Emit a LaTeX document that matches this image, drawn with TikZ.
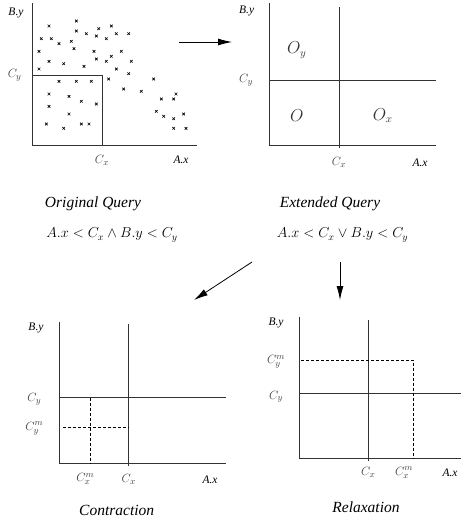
\documentclass[tikz,border=0pt]{standalone}
\usepackage{fontspec}
\setmainfont{Liberation Serif}
\usetikzlibrary{arrows.meta}
\begin{document}
\begin{tikzpicture}[x=1pt,y=-1pt,
  ax/.style={line width=0.9pt,draw=black!80},
  ln/.style={line width=0.8pt,draw=black!80},
  dl/.style={line width=0.7pt,dashed,dash pattern=on 3pt off 2pt},
  lbl/.style={font=\fontsize{11.5}{12}\selectfont\itshape,inner sep=0pt},
  mlbl/.style={font=\fontsize{12.5}{13}\selectfont,inner sep=0pt,text=black!75},
  big/.style={font=\fontsize{16}{17}\selectfont,inner sep=0pt,text=black!80},
  captxt/.style={font=\fontsize{15.5}{17}\selectfont\itshape,inner sep=0pt},
  fml/.style={font=\fontsize{14.5}{16}\selectfont,inner sep=0pt},
  arr/.style={line width=0.8pt,-{Latex[length=14pt,width=7pt]}},
  mk/.pic={\draw[line width=0.7pt] (-1.3,-1.3)--(1.3,1.3) (-1.3,1.3)--(1.3,-1.3);}]
\useasboundingbox (0,0) rectangle (461,522);
% ---------- panel 1
\coordinate (p1o) at (32.3,145);
\draw[ax] (32.3,3) -- (p1o) -- (197,145);
\draw[ax] (32.3,75) -- (102,75) -- (102,145);
\foreach \x/\y in {49/26,76.3/21,76.3/31,41.3/38.7,51.3/38.7,59/43.7,71.3/41.3,86.3/33.7,96.3/36,98.7/28.7,111.3/26,106.3/38.7,116.3/33.7,128.7/33.7,39/51.3,74/48.7,94/51.3,121.3/51.3,49/61.3,63.7/63.7,96.3/59,111.3/56.3,106.3/61.3,131.3/61.3,39/69,84/66.3,116.3/69,128.7/73.7,108.7/79,153.7/79,59/81.3,76.3/81.3,91.3/81.3,123.7/89,141.3/91.3,49/94,69/96.3,161.3/99,173.7/99,176/94,81.3/101.3,96.3/104,49/106.3,156.3/111.3,163.7/116.3,173.7/118.7,183.7/114,69/114,46.3/124,81.3/124,89/124,63.7/128.3,173.7/128.3,186/128.3}
  \pic at (\x,\y) {mk};
\node[lbl] (p1by) at (16,12.7) {B.y};
\node[mlbl] (p1cy) at (14.7,75) {$C_y$};
\node[mlbl] (p1cx) at (102,160) {$C_x$};
\node[lbl] (p1ax) at (181,160) {A.x};
% arrow 1
\coordinate (a1s) at (179,42);
\coordinate (a1e) at (232,42);
\draw[arr] (a1s) -- (a1e);
% ---------- panel 2
\draw[ax] (269.3,3) -- (269.3,145) -- (435.7,145);
\draw[ln] (339,7) -- (339,148);
\draw[ln] (269.3,80) -- (435.7,80);
\node[lbl] (p2by) at (246.7,11) {B.y};
\node[mlbl] (p2cy) at (246,80) {$C_y$};
\node[big] (oy) at (296.7,50) {$O_y$};
\node[big] (o) at (296.7,115.7) {$O$};
\node[big] (ox) at (382.7,115.7) {$O_x$};
\node[mlbl] (p2cx) at (339,162.7) {$C_x$};
\node[lbl] (p2ax) at (420,162.7) {A.x};
% captions
\node[captxt] (oq) at (93,203.3) {Original Query};
\node[fml] (f1) at (112,235) {$A.x<C_x\wedge B.y<C_y$};
\node[captxt] (eq) at (330,203.3) {Extended Query};
\node[fml] (f2) at (342.5,235) {$A.x<C_x\vee B.y<C_y$};
% arrows down
\coordinate (a2s) at (252,262);
\coordinate (a2e) at (194,300);
\draw[arr] (a2s) -- (a2e);
\coordinate (a3s) at (340,262);
\coordinate (a3e) at (340,300);
\draw[arr] (a3s) -- (a3e);
% ---------- panel 3
\draw[ax] (59.3,321.7) -- (59.3,463.3) -- (225.7,463.3);
\draw[ln] (128.7,324.3) -- (128.7,465.7);
\draw[ln] (59.3,397.7) -- (225.7,397.7);
\draw[dl] (90.7,397.7) -- (90.7,463.3);
\draw[dl] (63.3,427.7) -- (128.7,427.7);
\node[lbl] (p3by) at (36,327.7) {B.y};
\node[mlbl] (p3cy) at (34.3,399) {$C_y$};
\node[mlbl] (p3cym) at (34.3,428.3) {$C_y^m$};
\node[mlbl] (p3cxm) at (85.3,479.3) {$C_x^m$};
\node[mlbl] (p3cx) at (128.7,479.3) {$C_x$};
\node[lbl] (p3ax) at (210,479.3) {A.x};
\node[captxt] (con) at (116.7,510) {Contraction};
% ---------- panel 4
\draw[ax] (299,316.7) -- (299,458.3) -- (461,458.3);
\draw[ln] (368.3,320) -- (368.3,461);
\draw[ln] (299,393.3) -- (461,393.3);
\draw[dl] (301,360) -- (413.3,360) -- (413.3,458.3);
\node[lbl] (p4by) at (276,323.3) {B.y};
\node[mlbl] (p4cym) at (276,361.7) {$C_y^m$};
\node[mlbl] (p4cy) at (276,396.7) {$C_y$};
\node[mlbl] (p4cx) at (368.3,472.7) {$C_x$};
\node[mlbl] (p4cxm) at (404,472.7) {$C_x^m$};
\node[lbl] (p4ax) at (450,472.7) {A.x};
\node[captxt] (rel) at (366,506.7) {Relaxation};
\end{tikzpicture}
\end{document}
